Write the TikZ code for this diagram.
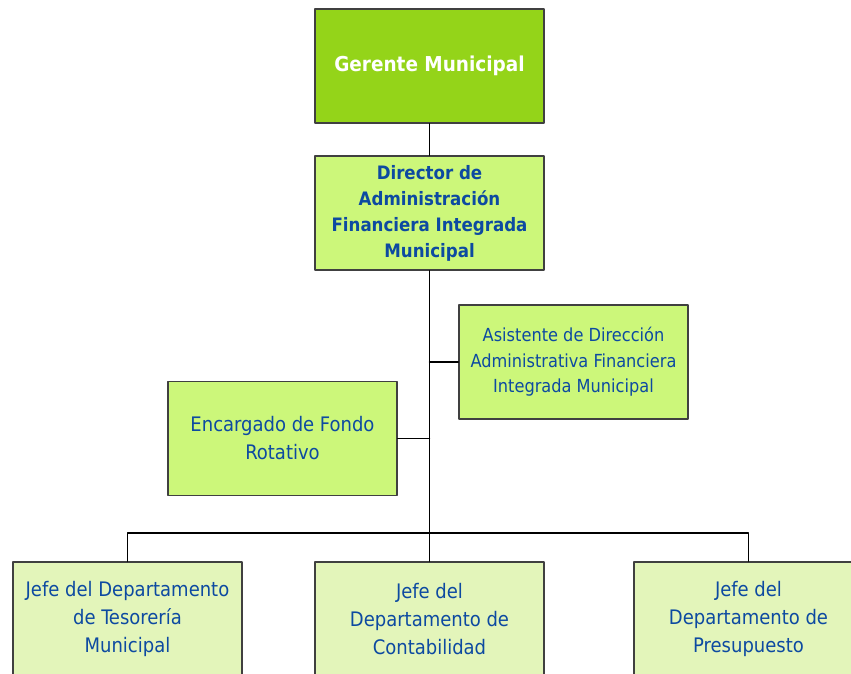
\documentclass[tikz,border=0pt]{standalone}
\usepackage{fontspec}
\setmainfont{DejaVu Sans Condensed}
\usepackage{tikz}
\usetikzlibrary{positioning}
\definecolor{ttggbb}{rgb}{0.58,0.83,0.1}
\definecolor{ccffrr}{rgb}{0.8,0.97,0.48}
\definecolor{eeffbb}{rgb}{0.89,0.96,0.73}
\definecolor{qqttaa}{rgb}{0.05,0.29,0.63}
\definecolor{zzzzzz}{rgb}{0.25,0.25,0.25}
\begin{document}
\begin{tikzpicture}[line cap=round,line join=round,x=1pt,y=1pt,
  cargo/.style={draw=zzzzzz,line width=1.5pt,minimum width=229pt,minimum height=114pt,align=center,text=qqttaa,font=\fontsize{20}{28}\selectfont},
  jefe/.style={cargo,fill=ccffrr,font=\bfseries\fontsize{18.5}{26}\selectfont},
  apoyo/.style={cargo,fill=ccffrr},
  depto/.style={cargo,fill=eeffbb},
  linea/.style={draw=black,line width=1.5pt}]
\useasboundingbox (0,0) rectangle (851,-673);
\clip (0,0) rectangle (851,-673);
\node[cargo,fill=ttggbb,text=white,font=\bfseries\fontsize{20.5}{26}\selectfont] (ger) at (429.5,-66) {Gerente Municipal};
\node[jefe] (dir) at (429.5,-213) {Director de\\Administración\\Financiera Integrada\\Municipal};
\node[apoyo,font=\fontsize{18}{25.5}\selectfont] (asi) at (573.5,-362) {Asistente de Dirección\\Administrativa Financiera\\Integrada Municipal};
\node[apoyo] (enc) at (282.5,-438.5) {Encargado de Fondo\\Rotativo};
\node[depto] (tes) at (127.5,-619) {Jefe del Departamento\\de Tesorería\\Municipal};
\node[depto] (con) at (429.5,-619) {Jefe del\\Departamento de\\Contabilidad};
\node[depto] (pre) at (748.5,-619) {Jefe del\\Departamento de\\Presupuesto};
\coordinate (bus) at (429.5,-533);
\draw[linea] (ger) -- (dir);
\draw[linea] (dir.south) -- (bus) -- (con.north);
\draw[linea] (tes.north) |- (bus) -| (pre.north);
\draw[linea] (asi.west) -- (asi.west -| dir.south);
\draw[linea] (enc.east) -- (enc.east -| dir.south);
\end{tikzpicture}
\end{document}
